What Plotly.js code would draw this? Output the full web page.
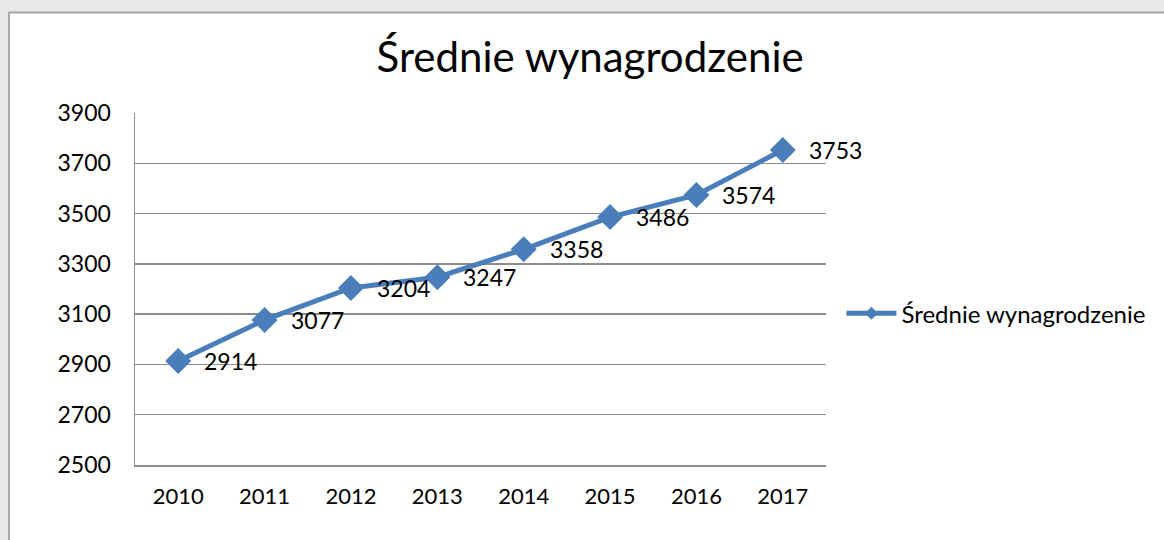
<!DOCTYPE html>
<html><head><meta charset="utf-8">
<script src="https://cdn.plot.ly/plotly-3.0.1.min.js"></script>
<style>html,body{margin:0;padding:0;background:#e9e9e7;}#chart{width:1164px;height:540px;}</style>
</head><body><div id="chart"></div>
<script>
const years = ['2010','2011','2012','2013','2014','2015','2016','2017'];
const salary = [2914, 3077, 3204, 3247, 3358, 3486, 3574, 3753];
const seriesName = 'Średnie wynagrodzenie';
const chartTitle = 'Średnie wynagrodzenie';
const yTicks = [2500, 2700, 2900, 3100, 3300, 3500, 3700, 3900];

const blue = '#4A7EBB';
const annotations = years.map((y, i) => ({
  x: i, y: salary[i], xref: 'x', yref: 'y', text: String(salary[i]),
  showarrow: false, xanchor: 'left', yanchor: 'middle', xshift: 24, yshift: 0,
  font: {family: 'Lato, sans-serif', size: 23, color: '#000'}
}));

const trace = {
  x: years, y: salary, type: 'scatter', mode: 'lines+markers', name: seriesName,
  line: {color: blue, width: 5},
  marker: {symbol: 'diamond', size: 20, color: blue},
  showlegend: false
};
const legendTrace = {
  x: [null], y: [null], type: 'scatter', mode: 'lines+markers', name: seriesName,
  line: {color: blue, width: 5},
  marker: {symbol: 'diamond', size: 10, color: blue},
  showlegend: true
};

const layout = {
  width: 1164, height: 540,
  margin: {l: 135, r: 338, t: 113, b: 75},
  paper_bgcolor: '#e9e9e7', plot_bgcolor: 'rgba(0,0,0,0)',
  title: {text: chartTitle, font: {family: 'Lato, sans-serif', size: 42, color: '#000'},
          x: 0.507, xref: 'container', xanchor: 'center', y: 0.893, yanchor: 'middle'},
  showlegend: true,
  legend: {x: 1.0223, xanchor: 'left', y: 0.43, yanchor: 'middle', bgcolor: 'rgba(0,0,0,0)',
           font: {family: 'Lato, sans-serif', size: 24, color: '#000'}, itemwidth: 50},
  xaxis: {type: 'category', range: [-0.5, 7.5], showgrid: false, showline: true,
          linecolor: '#8c8c8c', linewidth: 1.5, ticks: 'outside', ticklen: 11, tickcolor: 'rgba(0,0,0,0)',
          tickfont: {family: 'Lato, sans-serif', size: 22, color: '#000'}, fixedrange: true},
  yaxis: {range: [2500, 3900], tickvals: yTicks, ticktext: yTicks.map(String), showgrid: true,
          gridcolor: '#8c8c8c', gridwidth: 1.5, showline: true, linecolor: '#8c8c8c', linewidth: 1.5,
          zeroline: false, ticks: 'outside', ticklen: 18, tickcolor: 'rgba(0,0,0,0)',
          tickfont: {family: 'Lato, sans-serif', size: 23, color: '#000'}, fixedrange: true},
  shapes: [{type: 'rect', xref: 'paper', yref: 'paper', x0: -0.1823, x1: 1.52, y0: -0.25, y1: 1.2855,
            fillcolor: '#ffffff', line: {color: '#a6a6a6', width: 2}, layer: 'below'}],
  annotations: annotations
};

Plotly.newPlot('chart', [trace, legendTrace], layout, {displayModeBar: false, staticPlot: true});
</script></body></html>
